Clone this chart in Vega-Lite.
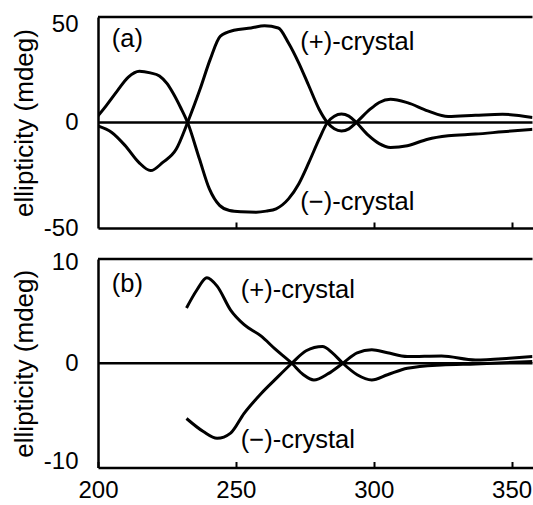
{
  "$schema": "https://vega.github.io/schema/vega-lite/v6.json",
  "padding": {"left": 11, "top": 12, "right": 0, "bottom": 0},
  "autosize": {"type": "pad"},
  "spacing": 10,
  "config": {
    "view": {"stroke": null},
    "font": "Liberation Sans",
    "axis": {
      "grid": false,
      "domainColor": "black",
      "domainWidth": 2.5,
      "tickColor": "black",
      "labelColor": "black",
      "titleColor": "black",
      "labelFont": "Liberation Sans",
      "titleFont": "Liberation Sans",
      "labelFontSize": 24,
      "titleFontSize": 26,
      "titleFontWeight": "normal",
      "labelFlush": false,
      "labelOverlap": false
    }
  },
  "datasets": {
    "curves": [
      {"panel": "a", "sample": "plus", "wl": 200, "ell": -1.6},
      {"panel": "a", "sample": "plus", "wl": 205, "ell": -4.7},
      {"panel": "a", "sample": "plus", "wl": 209.9, "ell": -11},
      {"panel": "a", "sample": "plus", "wl": 214.8, "ell": -18.9},
      {"panel": "a", "sample": "plus", "wl": 219.1, "ell": -22.8},
      {"panel": "a", "sample": "plus", "wl": 223.5, "ell": -18.9},
      {"panel": "a", "sample": "plus", "wl": 228.4, "ell": -12.6},
      {"panel": "a", "sample": "plus", "wl": 232.5, "ell": 0},
      {"panel": "a", "sample": "plus", "wl": 237, "ell": 15.7},
      {"panel": "a", "sample": "plus", "wl": 240.7, "ell": 29.9},
      {"panel": "a", "sample": "plus", "wl": 244.4, "ell": 40.9},
      {"panel": "a", "sample": "plus", "wl": 249.3, "ell": 43.7},
      {"panel": "a", "sample": "plus", "wl": 255.5, "ell": 44.8},
      {"panel": "a", "sample": "plus", "wl": 260.4, "ell": 45.9},
      {"panel": "a", "sample": "plus", "wl": 265.4, "ell": 44.8},
      {"panel": "a", "sample": "plus", "wl": 269.1, "ell": 37.7},
      {"panel": "a", "sample": "plus", "wl": 272.8, "ell": 28.3},
      {"panel": "a", "sample": "plus", "wl": 276.5, "ell": 17.3},
      {"panel": "a", "sample": "plus", "wl": 280.2, "ell": 6.3},
      {"panel": "a", "sample": "plus", "wl": 283.2, "ell": 0},
      {"panel": "a", "sample": "plus", "wl": 285.7, "ell": -3},
      {"panel": "a", "sample": "plus", "wl": 288.3, "ell": -4},
      {"panel": "a", "sample": "plus", "wl": 291, "ell": -3},
      {"panel": "a", "sample": "plus", "wl": 293.7, "ell": 0},
      {"panel": "a", "sample": "plus", "wl": 298.7, "ell": 6.3},
      {"panel": "a", "sample": "plus", "wl": 302, "ell": 9.5},
      {"panel": "a", "sample": "plus", "wl": 306.1, "ell": 11},
      {"panel": "a", "sample": "plus", "wl": 312.2, "ell": 9.4},
      {"panel": "a", "sample": "plus", "wl": 319.6, "ell": 5.5},
      {"panel": "a", "sample": "plus", "wl": 327, "ell": 2.8},
      {"panel": "a", "sample": "plus", "wl": 336.9, "ell": 3.4},
      {"panel": "a", "sample": "plus", "wl": 346.7, "ell": 3.9},
      {"panel": "a", "sample": "plus", "wl": 357.6, "ell": 2.4},
      {"panel": "a", "sample": "minus", "wl": 200, "ell": 3.1},
      {"panel": "a", "sample": "minus", "wl": 203, "ell": 8},
      {"panel": "a", "sample": "minus", "wl": 207, "ell": 15},
      {"panel": "a", "sample": "minus", "wl": 211, "ell": 21.5},
      {"panel": "a", "sample": "minus", "wl": 215, "ell": 24.3},
      {"panel": "a", "sample": "minus", "wl": 219, "ell": 23.5},
      {"panel": "a", "sample": "minus", "wl": 222.3, "ell": 22},
      {"panel": "a", "sample": "minus", "wl": 225, "ell": 18.5},
      {"panel": "a", "sample": "minus", "wl": 227.1, "ell": 14.2},
      {"panel": "a", "sample": "minus", "wl": 230, "ell": 7},
      {"panel": "a", "sample": "minus", "wl": 232.5, "ell": 0},
      {"panel": "a", "sample": "minus", "wl": 236.8, "ell": -17.3},
      {"panel": "a", "sample": "minus", "wl": 240.4, "ell": -31.5},
      {"panel": "a", "sample": "minus", "wl": 244.1, "ell": -39.3},
      {"panel": "a", "sample": "minus", "wl": 247.7, "ell": -41.7},
      {"panel": "a", "sample": "minus", "wl": 252, "ell": -42.3},
      {"panel": "a", "sample": "minus", "wl": 257.4, "ell": -42.5},
      {"panel": "a", "sample": "minus", "wl": 261, "ell": -42},
      {"panel": "a", "sample": "minus", "wl": 264.6, "ell": -40.9},
      {"panel": "a", "sample": "minus", "wl": 269.1, "ell": -36.2},
      {"panel": "a", "sample": "minus", "wl": 272.8, "ell": -29.1},
      {"panel": "a", "sample": "minus", "wl": 276.5, "ell": -18.9},
      {"panel": "a", "sample": "minus", "wl": 280.2, "ell": -7.9},
      {"panel": "a", "sample": "minus", "wl": 283.2, "ell": 0},
      {"panel": "a", "sample": "minus", "wl": 285.7, "ell": 3},
      {"panel": "a", "sample": "minus", "wl": 288.3, "ell": 4},
      {"panel": "a", "sample": "minus", "wl": 291, "ell": 3},
      {"panel": "a", "sample": "minus", "wl": 293.7, "ell": 0},
      {"panel": "a", "sample": "minus", "wl": 298, "ell": -6},
      {"panel": "a", "sample": "minus", "wl": 302, "ell": -10},
      {"panel": "a", "sample": "minus", "wl": 306.1, "ell": -11.8},
      {"panel": "a", "sample": "minus", "wl": 312.2, "ell": -11},
      {"panel": "a", "sample": "minus", "wl": 319.6, "ell": -7.9},
      {"panel": "a", "sample": "minus", "wl": 327, "ell": -6.3},
      {"panel": "a", "sample": "minus", "wl": 336.9, "ell": -5.5},
      {"panel": "a", "sample": "minus", "wl": 346.7, "ell": -4.4},
      {"panel": "a", "sample": "minus", "wl": 357.6, "ell": -3.2},
      {"panel": "b", "sample": "plus", "wl": 232.1, "ell": 5.3},
      {"panel": "b", "sample": "plus", "wl": 235.8, "ell": 7.0},
      {"panel": "b", "sample": "plus", "wl": 239.5, "ell": 8.2},
      {"panel": "b", "sample": "plus", "wl": 243.2, "ell": 7.4},
      {"panel": "b", "sample": "plus", "wl": 248.1, "ell": 5.1},
      {"panel": "b", "sample": "plus", "wl": 253, "ell": 3.7},
      {"panel": "b", "sample": "plus", "wl": 259.2, "ell": 2.6},
      {"panel": "b", "sample": "plus", "wl": 264.1, "ell": 1.4},
      {"panel": "b", "sample": "plus", "wl": 270.3, "ell": 0},
      {"panel": "b", "sample": "plus", "wl": 274.5, "ell": -1.1},
      {"panel": "b", "sample": "plus", "wl": 278.3, "ell": -1.6},
      {"panel": "b", "sample": "plus", "wl": 283.5, "ell": -1.0},
      {"panel": "b", "sample": "plus", "wl": 288.8, "ell": 0},
      {"panel": "b", "sample": "plus", "wl": 294, "ell": 1.0},
      {"panel": "b", "sample": "plus", "wl": 299.3, "ell": 1.3},
      {"panel": "b", "sample": "plus", "wl": 305, "ell": 1.0},
      {"panel": "b", "sample": "plus", "wl": 312.2, "ell": 0.64},
      {"panel": "b", "sample": "plus", "wl": 324.6, "ell": 0.7},
      {"panel": "b", "sample": "plus", "wl": 336.9, "ell": 0.32},
      {"panel": "b", "sample": "plus", "wl": 349.2, "ell": 0.48},
      {"panel": "b", "sample": "plus", "wl": 357.6, "ell": 0.64},
      {"panel": "b", "sample": "minus", "wl": 232.1, "ell": -5.3},
      {"panel": "b", "sample": "minus", "wl": 238.2, "ell": -6.55},
      {"panel": "b", "sample": "minus", "wl": 243.2, "ell": -7.2},
      {"panel": "b", "sample": "minus", "wl": 248.1, "ell": -6.7},
      {"panel": "b", "sample": "minus", "wl": 253, "ell": -4.8},
      {"panel": "b", "sample": "minus", "wl": 259.2, "ell": -2.9},
      {"panel": "b", "sample": "minus", "wl": 264.1, "ell": -1.6},
      {"panel": "b", "sample": "minus", "wl": 270.3, "ell": 0},
      {"panel": "b", "sample": "minus", "wl": 275.5, "ell": 1.2},
      {"panel": "b", "sample": "minus", "wl": 281.4, "ell": 1.6},
      {"panel": "b", "sample": "minus", "wl": 285, "ell": 1.0},
      {"panel": "b", "sample": "minus", "wl": 288.8, "ell": 0},
      {"panel": "b", "sample": "minus", "wl": 294, "ell": -1.1},
      {"panel": "b", "sample": "minus", "wl": 299.3, "ell": -1.6},
      {"panel": "b", "sample": "minus", "wl": 305, "ell": -1.1},
      {"panel": "b", "sample": "minus", "wl": 312.2, "ell": -0.48},
      {"panel": "b", "sample": "minus", "wl": 324.6, "ell": -0.16},
      {"panel": "b", "sample": "minus", "wl": 336.9, "ell": -0.06},
      {"panel": "b", "sample": "minus", "wl": 357.6, "ell": 0.16}
    ],
    "refs": [
      {"panel": "a", "level": 0},
      {"panel": "a", "level": 50},
      {"panel": "b", "level": 0},
      {"panel": "b", "level": 10}
    ],
    "notes": [
      {"panel": "a", "label": "(a)", "x": 205, "y": 39.8},
      {"panel": "a", "label": "(+)-crystal", "x": 273.4, "y": 38.3},
      {"panel": "a", "label": "(−)-crystal", "x": 273.4, "y": -37.8},
      {"panel": "b", "label": "(b)", "x": 205, "y": 7.6},
      {"panel": "b", "label": "(+)-crystal", "x": 251.8, "y": 7.0},
      {"panel": "b", "label": "(−)-crystal", "x": 251.8, "y": -7.4}
    ]
  },
  "vconcat": [
    {
      "width": 434.5,
      "height": 211,
      "layer": [
        {
          "data": {"name": "curves"},
          "transform": [{"filter": "datum.panel === 'a'"}],
          "mark": {"type": "line", "color": "black", "strokeWidth": 3, "interpolate": "monotone", "clip": true},
          "encoding": {
            "x": {
              "field": "wl", "type": "quantitative",
              "scale": {"domain": [200, 357.6], "nice": false, "zero": false},
              "axis": {"title": null, "labels": false, "values": [250, 300, 350], "tickSize": -6, "tickWidth": 2, "domain": true}
            },
            "y": {
              "field": "ell", "type": "quantitative",
              "scale": {"domain": [-50, 50], "nice": false},
              "axis": {
                "title": "ellipticity (mdeg)",
                "values": [-50, 0, 50],
                "ticks": false,
                "labelPadding": 20,
                "titlePadding": 6,
                "labelExpr": "replace(datum.label, '−', '-')",
                "labelOffset": {"condition": {"test": "datum.value === 50", "value": 7}, "value": 0}
              }
            },
            "detail": {"field": "sample"}
          }
        },
        {
          "data": {"name": "refs"},
          "transform": [{"filter": "datum.panel === 'a'"}],
          "mark": {"type": "rule", "color": "black", "strokeWidth": 2.5},
          "encoding": {"y": {"field": "level", "type": "quantitative"}}
        },
        {
          "data": {"name": "notes"},
          "transform": [{"filter": "datum.panel === 'a'"}],
          "mark": {"type": "text", "align": "left", "baseline": "middle", "fontSize": 25.5, "font": "Liberation Sans", "color": "black"},
          "encoding": {
            "x": {"field": "x", "type": "quantitative"},
            "y": {"field": "y", "type": "quantitative"},
            "text": {"field": "label"}
          }
        }
      ]
    },
    {
      "width": 434.5,
      "height": 208.5,
      "layer": [
        {
          "data": {"name": "curves"},
          "transform": [{"filter": "datum.panel === 'b'"}],
          "mark": {"type": "line", "color": "black", "strokeWidth": 3, "interpolate": "monotone", "clip": true},
          "encoding": {
            "x": {
              "field": "wl", "type": "quantitative",
              "scale": {"domain": [200, 357.6], "nice": false, "zero": false},
              "axis": {"title": null, "values": [200, 250, 300, 350], "tickSize": -6, "tickWidth": 2, "labelPadding": 17, "domain": true}
            },
            "y": {
              "field": "ell", "type": "quantitative",
              "scale": {"domain": [-10, 10], "nice": false},
              "axis": {
                "title": "ellipticity (mdeg)",
                "values": [-10, 0, 10],
                "ticks": false,
                "labelPadding": 20,
                "titlePadding": 6,
                "labelExpr": "replace(datum.label, '−', '-')",
                "labelOffset": {"condition": [{"test": "datum.value === 10", "value": 3}, {"test": "datum.value === -10", "value": -6}], "value": 0}
              }
            },
            "detail": {"field": "sample"}
          }
        },
        {
          "data": {"name": "refs"},
          "transform": [{"filter": "datum.panel === 'b'"}],
          "mark": {"type": "rule", "color": "black", "strokeWidth": 2.5},
          "encoding": {"y": {"field": "level", "type": "quantitative"}}
        },
        {
          "data": {"name": "notes"},
          "transform": [{"filter": "datum.panel === 'b'"}],
          "mark": {"type": "text", "align": "left", "baseline": "middle", "fontSize": 25.5, "font": "Liberation Sans", "color": "black"},
          "encoding": {
            "x": {"field": "x", "type": "quantitative"},
            "y": {"field": "y", "type": "quantitative"},
            "text": {"field": "label"}
          }
        }
      ]
    }
  ]
}
